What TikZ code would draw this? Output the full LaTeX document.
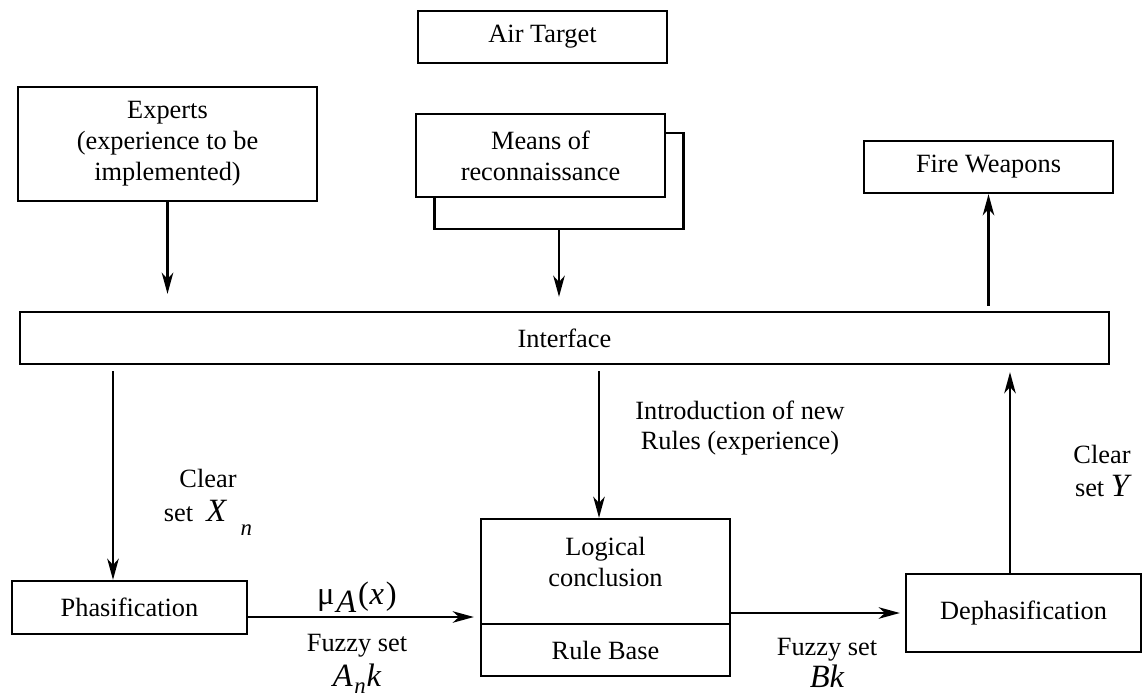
\documentclass[tikz,border=0pt]{standalone}
\usepackage{fontspec}
\setmainfont{Liberation Serif}
\usetikzlibrary{arrows.meta}
\newcommand\bigsym[1]{{\fontsize{18.5}{20}\selectfont #1}}
\newcommand\subsym[1]{{\fontsize{13}{14}\selectfont\itshape #1}}

\begin{document}
\begin{tikzpicture}[x=0.02cm,y=-0.02cm,
    font=\fontsize{15}{17.6}\selectfont,
    box/.style={draw,line width=1.3pt,fill=white,align=center,inner sep=2pt},
    arr/.style={line width=1.6pt,-{Stealth[length=12pt,width=6.5pt,inset=3.5pt]}},
    lbl/.style={align=center,inner sep=0pt}]
  \useasboundingbox (0,0) rectangle (1144,698);

  \node[box,minimum width=4.98cm,minimum height=1.04cm] (air) at (542.5,37) {Air Target};
  \node[box,minimum width=5.98cm,minimum height=2.28cm] (expert) at (167.5,144) {Experts\\(experience to be\\implemented)};
  \node[box,minimum width=4.98cm,minimum height=1.92cm] (meansbk) at (559,181) {};
  \node[box,minimum width=4.98cm,minimum height=1.66cm] (means) at (540.5,155.5) {Means of\\reconnaissance};
  \node[box,minimum width=4.98cm,minimum height=1.04cm] (fire) at (988.5,167) {Fire Weapons};
  \node[box,minimum width=21.78cm,minimum height=1.04cm] (inter) at (564.5,338) {Interface};
  \node[box,minimum width=4.70cm,minimum height=1.06cm] (phas) at (129.5,607.5) {Phasification};
  \node[box,minimum width=4.98cm,minimum height=2.10cm,text depth=0.4cm] (logic) at (605.5,571.5) {Logical\\conclusion};
  \node[box,minimum width=4.98cm,minimum height=1.04cm] (rule) at (605.5,650) {Rule Base};
  \node[box,minimum width=4.70cm,minimum height=1.56cm] (deph) at (1023.5,613) {Dephasification};

  % labels on the connectors
  \node[lbl] (clearx) at (208,502) {Clear\\[2pt]set~~\bigsym{\itshape X}\hspace{0.55em}\raisebox{-1.1ex}{\subsym{n}}};
  \node[lbl] (mu) at (357,597) {\bigsym{μ\kern1pt\raisebox{-0.55ex}{\itshape A}\kern1pt(\kern0.5pt\itshape x\kern1pt\upshape)}};
  \node[lbl] (fuzzya) at (357,664) {Fuzzy set\\[2pt]\bigsym{\itshape A\kern1pt\raisebox{-0.5ex}{\subsym{n}}\kern0.5pt k}};
  \node[lbl] (intro) at (740,428) {Introduction of new\\Rules (experience)};
  \node[lbl] (cleary) at (1102,471) {Clear\\[1pt]set \bigsym{\itshape Y}};
  \node[lbl] (fuzzyb) at (827,663) {Fuzzy set\\[1pt]\bigsym{\itshape Bk}};

  \draw[arr,shorten >=0.34cm] (expert) -- (expert |- inter.north);
  \draw[arr,shorten >=0.28cm] (meansbk.south) -- (meansbk.south |- inter.north);
  \draw[arr,shorten <=0.1cm] (fire.south |- inter.north) -- (fire.south);
  \draw[arr,shorten <=0.12cm] ([xshift=-0.33cm]phas.north |- inter.south) -- ([xshift=-0.33cm]phas.north);
  \draw[arr,shorten <=0.12cm] ([xshift=-0.13cm]logic.north |- inter.south) -- ([xshift=-0.13cm]logic.north);
  \draw[arr,shorten >=0.14cm] ([xshift=-0.27cm]deph.north) -- ([xshift=-0.27cm]deph.north |- inter.south);
  \draw[arr,shorten >=0.12cm] ([yshift=-0.19cm]phas.east) -- ([yshift=-0.19cm]phas.east -| logic.west);
  \draw[arr,shorten >=0.1cm] (logic.east |- deph.west) -- (deph.west);
\end{tikzpicture}
\end{document}
